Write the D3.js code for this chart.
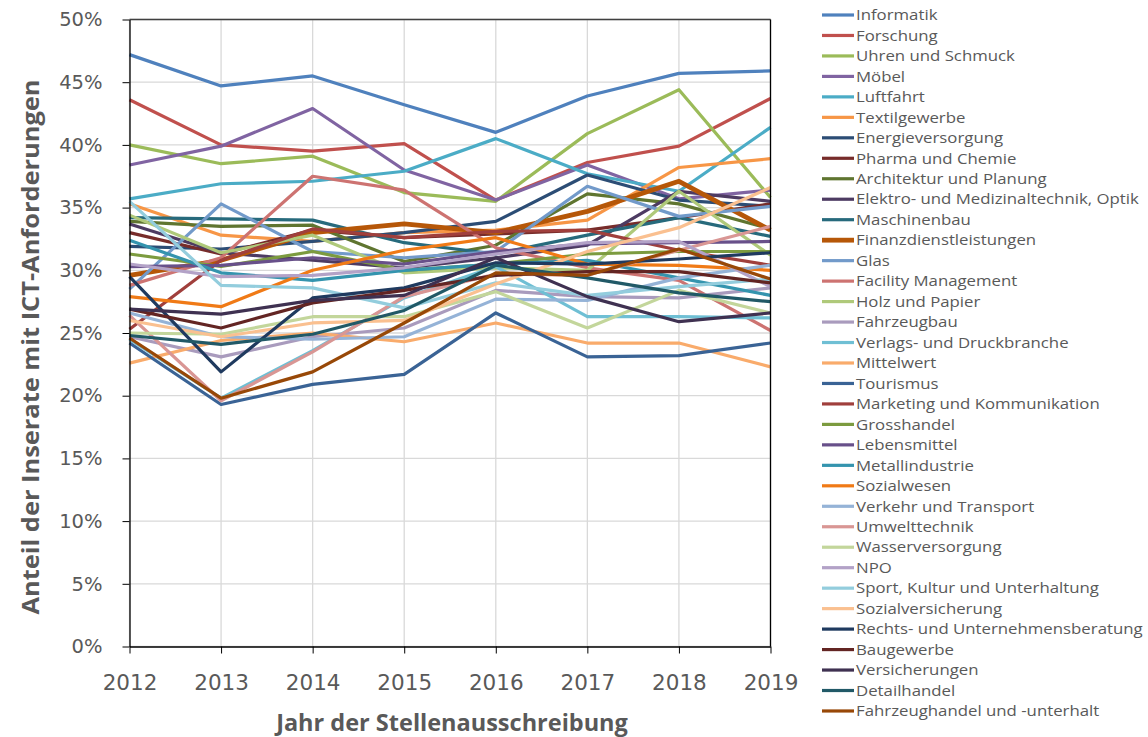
<!DOCTYPE html>
<html lang="de">
<head>
  <meta charset="UTF-8">
  <title>Anteil der Inserate mit ICT-Anforderungen</title>
  <script src="https://d3js.org/d3.v7.min.js"></script>
  <style>
    body { margin: 0; background: #fff; }
    .grid line { stroke: #d9d9d9; stroke-width: 1.3px; }
    .axis path, .axis line { stroke: #000; }
    .ylab text { font-family: "DejaVu Sans", sans-serif; font-size: 19.5px; fill: #595959; }
    .xlab text { font-family: "DejaVu Sans", sans-serif; font-size: 21.5px; fill: #595959; }
    .title { font-family: "Open Sans", sans-serif; font-weight: bold; fill: #595959; }
    .legend text { font-family: "Open Sans", sans-serif; font-size: 15px; fill: #595959; }
  </style>
</head>
<body>
  <div id="chart"></div>
  <script>
    const years = [2012, 2013, 2014, 2015, 2016, 2017, 2018, 2019];

    const names = [
      "Informatik", "Forschung", "Uhren und Schmuck", "Möbel", "Luftfahrt",
      "Textilgewerbe", "Energieversorgung", "Pharma und Chemie", "Architektur und Planung",
      "Elektro- und Medizinaltechnik, Optik", "Maschinenbau", "Finanzdienstleistungen",
      "Glas", "Facility Management", "Holz und Papier", "Fahrzeugbau",
      "Verlags- und Druckbranche", "Mittelwert", "Tourismus", "Marketing und Kommunikation",
      "Grosshandel", "Lebensmittel", "Metallindustrie", "Sozialwesen", "Verkehr und Transport",
      "Umwelttechnik", "Wasserversorgung", "NPO", "Sport, Kultur und Unterhaltung",
      "Sozialversicherung", "Rechts- und Unternehmensberatung", "Baugewerbe",
      "Versicherungen", "Detailhandel", "Fahrzeughandel und -unterhalt"
    ];

    // share of ads in %, one array per branch, same order as names
    const informatik      = [47.2, 44.7, 45.5, 43.2, 41.0, 43.9, 45.7, 45.9];
    const forschung       = [43.6, 40.0, 39.5, 40.1, 35.6, 38.6, 39.9, 43.7];
    const uhren           = [40.0, 38.5, 39.1, 36.2, 35.5, 40.9, 44.4, 35.8];
    const moebel          = [38.4, 39.9, 42.9, 38.0, 35.6, 38.4, 35.7, 36.4];
    const luftfahrt       = [35.7, 36.9, 37.1, 37.9, 40.5, 37.7, 36.3, 41.4];
    const textil          = [35.3, 32.8, 32.3, 33.0, 33.2, 34.0, 38.2, 38.9];
    const energie         = [31.9, 31.7, 32.3, 33.0, 33.9, 37.6, 35.6, 35.1];
    const pharma          = [33.0, 31.3, 33.2, 32.6, 32.9, 33.2, 34.2, 35.3];
    const architektur     = [33.9, 33.5, 33.6, 30.7, 32.0, 36.1, 35.3, 33.3];
    const elektro         = [33.7, 31.4, 30.8, 30.2, 31.0, 32.0, 36.3, 35.5];
    const maschinenbau    = [34.2, 34.1, 34.0, 32.2, 31.3, 32.8, 34.2, 32.7];
    const finanz          = [29.6, 30.8, 33.0, 33.7, 33.0, 34.7, 37.1, 33.2];
    const glas            = [28.5, 35.3, 31.5, 31.0, 31.5, 36.7, 34.3, 35.1];
    const facility        = [28.8, 31.0, 37.5, 36.4, 31.8, 30.2, 29.2, 25.2];
    const holz            = [34.4, 31.4, 32.8, 29.8, 30.2, 30.0, 36.3, 31.2];
    const fahrzeugbau     = [24.7, 23.1, 24.7, 25.4, 28.4, 27.9, 27.8, 28.6];
    const verlags         = [24.5, 19.8, 23.6, 27.8, 30.3, 26.3, 26.3, 26.2];
    const mittelwert      = [22.6, 24.4, 25.0, 24.3, 25.8, 24.2, 24.2, 22.3];
    const tourismus       = [24.2, 19.3, 20.9, 21.7, 26.6, 23.1, 23.2, 24.2];
    const marketing       = [25.3, 30.8, 33.3, 32.6, 33.1, 33.2, 31.6, 30.4];
    const grosshandel     = [31.3, 30.3, 31.5, 30.0, 30.5, 31.3, 31.5, 31.5];
    const lebensmittel    = [30.3, 30.4, 31.0, 30.5, 31.5, 32.1, 32.2, 32.3];
    const metall          = [32.4, 29.8, 29.2, 30.0, 30.5, 30.8, 29.4, 28.0];
    const sozialwesen     = [27.9, 27.1, 30.0, 31.6, 32.6, 30.5, 30.4, 30.0];
    const verkehr         = [26.6, 24.7, 24.5, 24.7, 27.7, 27.6, 29.4, 30.4];
    const umwelt          = [26.4, 19.6, 23.5, 27.9, 29.7, 29.6, 31.6, 33.5];
    const wasser          = [25.0, 24.9, 26.3, 26.3, 28.3, 25.4, 28.4, 26.6];
    const npo             = [30.5, 29.5, 29.6, 30.2, 31.3, 32.2, 32.3, 28.7];
    const sport           = [35.5, 28.8, 28.6, 27.0, 29.0, 28.0, 28.7, 29.3];
    const sozialvers      = [26.0, 24.7, 25.8, 26.0, 28.9, 31.5, 33.4, 36.6];
    const rechts          = [29.5, 21.9, 27.8, 28.6, 30.6, 30.5, 30.9, 31.4];
    const baugewerbe      = [26.9, 25.4, 27.4, 28.4, 29.6, 29.9, 29.9, 29.0];
    const versicherungen  = [26.9, 26.5, 27.6, 28.0, 31.0, 27.9, 25.9, 26.6];
    const detailhandel    = [24.8, 24.1, 24.9, 26.8, 30.4, 29.4, 28.2, 27.5];
    const fahrzeughandel  = [24.6, 19.8, 21.9, 25.8, 29.8, 29.6, 31.7, 29.3];

    const values = [
      informatik, forschung, uhren, moebel, luftfahrt, textil, energie, pharma,
      architektur, elektro, maschinenbau, finanz, glas, facility, holz, fahrzeugbau,
      verlags, mittelwert, tourismus, marketing, grosshandel, lebensmittel, metall,
      sozialwesen, verkehr, umwelt, wasser, npo, sport, sozialvers, rechts, baugewerbe,
      versicherungen, detailhandel, fahrzeughandel
    ];

    const yTicks = [0, 5, 10, 15, 20, 25, 30, 35, 40, 45, 50];

    // office style palette, same order as names
    const colors = [
      "#4f81bd", "#c0504d", "#9bbb59", "#8064a2", "#4bacc6", "#f79646", "#2c4d75",
      "#772c2a", "#5f7530", "#4d3b62", "#276a7c", "#b65708", "#729aca", "#cd7371",
      "#afc97a", "#a99bbd", "#6fbfd4", "#f9ab6b", "#3a6395", "#a03f3c", "#7c9b3f",
      "#68508a", "#3494ae", "#f07a16", "#95b3d7", "#d99694", "#c3d69b", "#b3a2c7",
      "#93cddd", "#fac090", "#1f3a5f", "#632523", "#3f3151", "#215967", "#984807"
    ];

    const width = 1148, height = 737;
    const svg = d3.select('#chart').append('svg')
      .attr('width', width).attr('height', height);

    const x = d3.scaleLinear().domain([2012, 2019]).range([129.5, 770.5]);
    const y = d3.scaleLinear().domain([0, 50]).range([646.5, 19.5]);

    // grid
    const grid = svg.append('g').attr('class', 'grid');
    grid.selectAll('.h').data(yTicks).enter().append('line')
      .attr('x1', x(2012)).attr('x2', x(2019))
      .attr('y1', d => y(d)).attr('y2', d => y(d));
    grid.selectAll('.v').data(years).enter().append('line')
      .attr('x1', d => x(d)).attr('x2', d => x(d))
      .attr('y1', y(0)).attr('y2', y(50));

    // series
    const line = d3.line()
      .x((d, i) => x(years[i]))
      .y(d => y(d));

    svg.append('g').selectAll('path')
      .data(values).enter().append('path')
      .attr('d', d => line(d))
      .attr('fill', 'none')
      .attr('stroke', (d, i) => colors[i])
      .attr('stroke-width', (d, i) => names[i] === "Finanzdienstleistungen" ? 4.8 : 3.2)
      .attr('stroke-linejoin', 'round');

    // frame top / right
    svg.append('line').attr('x1', x(2012)).attr('x2', x(2019))
      .attr('y1', y(50)).attr('y2', y(50)).attr('stroke', '#404040').attr('stroke-width', 1.3);
    svg.append('line').attr('x1', x(2019)).attr('x2', x(2019))
      .attr('y1', y(50)).attr('y2', y(0)).attr('stroke', '#000').attr('stroke-width', 1.3);

    // axes
    const yAxis = svg.append('g').attr('class', 'axis ylab')
      .attr('transform', `translate(${x(2012)},0)`)
      .call(d3.axisLeft(y).tickValues(yTicks).tickFormat(d => d + '%').tickSize(7).tickSizeOuter(0));
    yAxis.selectAll('text').attr('dx', '-17px');
    yAxis.select('.domain').attr('stroke-width', 1.3);

    const xAxis = svg.append('g').attr('class', 'axis xlab')
      .attr('transform', `translate(0,${y(0)})`)
      .call(d3.axisBottom(x).tickValues(years).tickFormat(d3.format('d')).tickSize(7).tickSizeOuter(0));
    xAxis.selectAll('text').attr('dy', '1.55em');
    xAxis.select('.domain').attr('stroke-width', 1.3);

    // axis titles
    svg.append('text').attr('class', 'title')
      .attr('x', 452).attr('y', 731).attr('text-anchor', 'middle')
      .style('font-size', '23.5px')
      .text('Jahr der Stellenausschreibung');
    svg.append('text').attr('class', 'title')
      .attr('transform', 'translate(39,347) rotate(-90)')
      .attr('text-anchor', 'middle')
      .style('font-size', '24px')
      .attr('textLength', 535).attr('lengthAdjust', 'spacingAndGlyphs')
      .text('Anteil der Inserate mit ICT-Anforderungen');

    // legend
    const legend = svg.append('g').attr('class', 'legend');
    const row = legend.selectAll('g').data(names).enter().append('g')
      .attr('transform', (d, i) => `translate(822,${15 + i * 20.47})`);
    row.append('line')
      .attr('x1', 0).attr('x2', 32).attr('y1', 0).attr('y2', 0)
      .attr('stroke', (d, i) => colors[i])
      .attr('stroke-width', d => d === "Finanzdienstleistungen" ? 4.8 : 3.2);
    row.append('text')
      .attr('transform', 'translate(34,0) scale(1.12,1)')
      .attr('dy', '0.35em')
      .text(d => d);
  </script>
</body>
</html>
